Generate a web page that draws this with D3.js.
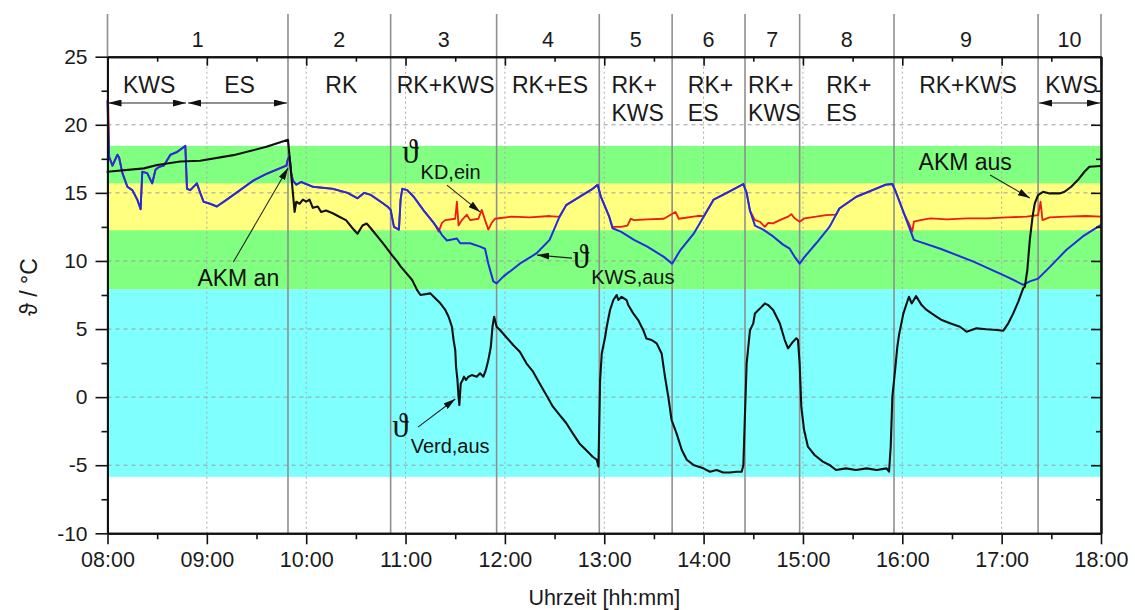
<!DOCTYPE html>
<html>
<head>
<meta charset="utf-8">
<script src="https://cdn.jsdelivr.net/npm/d3@7"></script>
<style>
  body { margin: 0; background: #fff; }
  svg { display: block; font-family: "Liberation Sans", Arial, Helvetica, sans-serif; }
</style>
</head>
<body>
<svg id="chart" width="1135" height="610"></svg>
<script>
// ---------- data ----------
const timeRange = ["08:00", "18:00"];
const xTickLabels = ["08:00","09:00","10:00","11:00","12:00","13:00","14:00","15:00","16:00","17:00","18:00"];
const xMinorTicks = ["08:30","09:30","10:30","11:30","12:30","13:30","14:30","15:30","16:30","17:30"];
const yTicks = [-10, -5, 0, 5, 10, 15, 20, 25];
const yMinorTicks = [-7.5, -2.5, 2.5, 7.5, 12.5, 17.5, 22.5];
const yRange = [-10, 25];

// operating phases (boundaries) and their numbers
const phaseBounds = ["08:00","09:49","10:51","11:55","12:57","13:41","14:25","14:58","15:55","17:22","18:00"];
const phaseNumbers = ["1","2","3","4","5","6","7","8","9","10"];

// operating modes within the phases
const modeBounds = ["08:00","08:48","09:49","10:51","11:55","12:57","13:41","14:25","14:58","15:55","17:22","18:00"];
const modeText = ["KWS","ES","RK","RK+KWS","RK+ES","RK+\nKWS","RK+\nES","RK+\nKWS","RK+\nES","RK+KWS","KWS"];
const modeArrow = [true, true, false, false, false, false, false, false, false, false, true];

// temperature bands [low, high]
const bandLow  = [7.9, 12.25, -5.85];
const bandHigh = [18.45, 15.7, 7.9];

// ϑ_KWS,aus
const kwsAus = [
  ["08:00",21.7],["08:01",17.65],["08:03",17.0],["08:06",17.8],["08:07",17.6],["08:09",16.45],
  ["08:12",15.45],["08:15",15.2],["08:18",14.5],["08:20",13.8],["08:21",16.55],["08:24",16.45],
  ["08:27",15.7],["08:29",16.7],["08:31",16.9],["08:34",17.0],["08:38",17.8],["08:42",18.0],
  ["08:47",18.45],["08:48",15.3],["08:50",15.2],["08:54",15.7],["08:56",15.0],["08:58",14.35],
  ["09:02",14.2],["09:06",14.0],["09:12",14.5],["09:20",15.2],["09:28",15.9],["09:36",16.4],
  ["09:44",16.8],["09:48",17.0],["09:49",17.5],["09:50",17.65],["09:51",16.4],["09:52",15.9],
  ["09:54",15.6],["09:57",15.8],["10:04",15.45],["10:16",15.3],["10:25",15.0],["10:31",14.6],
  ["10:35",15.0],["10:39",14.85],["10:45",14.35],["10:49",14.0],["10:51",13.75],["10:53",12.5],
  ["10:56",12.3],["10:57",14.5],["10:58",15.3],["11:01",15.2],["11:05",14.7],["11:11",13.7],
  ["11:17",12.8],["11:20",12.3],["11:22",11.9],["11:25",11.5],["11:31",11.65],["11:33",11.3],
  ["11:39",11.3],["11:45",11.05],["11:48",10.9],["11:50",9.8],["11:53",8.5],["11:55",8.35],
  ["11:59",8.85],["12:09",9.8],["12:19",10.55],["12:27",11.55],["12:33",13.25],["12:37",14.1],
  ["12:45",14.7],["12:53",15.3],["12:56",15.6],["12:58",14.7],["13:03",13.25],["13:05",12.4],
  ["13:10",12.15],["13:18",11.55],["13:26",11.05],["13:36",10.3],["13:41",9.8],["13:46",10.8],
  ["13:54",12.0],["14:00",13.25],["14:06",14.5],["14:14",15.0],["14:24",15.65],["14:26",15.0],
  ["14:28",13.7],["14:31",12.6],["14:36",12.3],["14:42",11.8],["14:48",11.2],["14:52",10.9],
  ["14:55",10.3],["14:58",9.8],["15:01",10.3],["15:08",11.3],["15:16",12.5],["15:22",13.85],
  ["15:32",14.7],["15:42",15.2],["15:50",15.6],["15:54",15.65],["15:56",15.1],["16:01",13.5],
  ["16:07",11.55],["16:23",10.9],["16:43",9.95],["17:03",8.85],["17:13",8.25],["17:17",8.5],
  ["17:22",8.7],["17:29",9.55],["17:39",10.8],["17:49",11.8],["18:00",12.65]
];

// ϑ_KD,ein
const kdEin = [
  ["08:00",21.8],["08:00:30",21.3],["08:01",17.65],["08:03",17.0],["08:06",17.8],["08:07",17.6],["08:09",16.45],
  ["08:12",15.45],["08:15",15.2],["08:18",14.5],["08:20",13.8],["08:21",16.55],["08:24",16.45],
  ["08:27",15.7],["08:29",16.7],["08:31",16.9],["08:34",17.0],["08:38",17.8],["08:42",18.0],
  ["08:47",18.45],["08:48",15.3],["08:50",15.2],["08:54",15.7],["08:56",15.0],["08:58",14.35],
  ["09:02",14.2],["09:06",14.0],["09:12",14.5],["09:20",15.2],["09:28",15.9],["09:36",16.4],
  ["09:44",16.8],["09:48",17.0],["09:49",17.5],["09:50",17.65],["09:51",16.4],["09:52",15.9],
  ["09:54",15.6],["09:57",15.8],["10:04",15.45],["10:16",15.3],["10:25",15.0],["10:31",14.6],
  ["10:35",15.0],["10:39",14.85],["10:45",14.35],["10:49",14.0],["10:51",13.75],["10:53",12.5],
  ["10:56",12.3],["10:57",14.5],["10:58",15.3],["11:01",15.2],["11:05",14.7],["11:11",13.7],
  ["11:17",12.8],["11:20",12.15],["11:22",12.8],["11:24",13.0],["11:30",13.1],["11:31",14.35],
  ["11:32",12.6],["11:34",13.0],["11:37",13.4],["11:39",13.0],["11:44",13.1],["11:46",13.75],
  ["11:48",13.0],["11:50",12.3],["11:52",12.8],["11:54",13.1],["12:04",13.25],["12:15",13.2],
  ["12:27",13.3],["12:31",13.25],["12:33",13.25],["12:37",14.1],["12:45",14.7],["12:53",15.3],
  ["12:56",15.6],["12:58",14.7],["13:03",13.25],["13:05",12.5],["13:10",12.5],["13:14",12.6],
  ["13:16",13.1],["13:18",13.0],["13:26",13.05],["13:36",13.1],["13:43",13.6],["13:45",13.1],
  ["13:56",13.3],["13:59",13.3],["14:00",13.25],["14:06",14.5],["14:14",15.0],["14:24",15.65],
  ["14:26",15.0],["14:28",13.7],["14:31",13.0],["14:34",12.88],["14:37",12.5],["14:39",12.8],
  ["14:42",12.76],["14:46",13.0],["14:51",13.25],["14:53",13.44],["14:55",13.13],["14:58",12.88],
  ["15:01",13.13],["15:08",13.25],["15:14",13.37],["15:20",13.4],["15:22",13.85],["15:32",14.7],
  ["15:42",15.2],["15:50",15.6],["15:54",15.65],["15:56",15.1],["16:01",13.5],["16:04",12.76],
  ["16:06",12.15],["16:07",12.88],["16:11",13.0],["16:17",13.13],["16:27",13.05],["16:39",13.13],
  ["16:51",13.13],["17:03",13.2],["17:15",13.25],["17:22",13.37],["17:23:30",14.35],["17:24:40",13.0],
  ["17:29",13.2],["17:39",13.25],["17:51",13.3],["18:00",13.25]
];

// ϑ_Verd,aus
const verdAus = [
  ["08:00",16.55],["08:22",16.8],["08:30",17.05],["08:44",17.3],["08:56",17.36],["09:16",17.77],
  ["09:36",18.38],["09:49",18.9],["09:50",17.6],["09:53",13.6],["09:54",14.35],["09:56",14.2],
  ["09:58",14.5],["10:00",14.35],["10:02",14.5],["10:04",13.9],["10:07",14.0],["10:09",13.6],
  ["10:12",13.7],["10:16",13.5],["10:20",13.25],["10:24",13.0],["10:28",12.4],["10:31",12.0],
  ["10:34",12.6],["10:36:30",12.75],["10:39",12.4],["10:43",11.8],["10:47",11.2],["10:51",10.55],
  ["10:55",9.95],["10:57",9.6],["11:04",8.6],["11:07",7.86],["11:09",7.5],["11:15",7.62],
  ["11:17",7.37],["11:21",6.89],["11:24",6.4],["11:26",5.9],["11:28",5.17],["11:29",4.19],
  ["11:30",3.46],["11:30:30",2.23],["11:31:20",1.26],["11:32",0.03],["11:32:30",-0.58],
  ["11:33:20",1.0],["11:34:30",1.26],["11:35:20",1.5],["11:36:30",1.26],["11:38",1.5],
  ["11:40",1.62],["11:43",1.5],["11:45",1.75],["11:47",1.5],["11:48:30",2.0],["11:50",2.72],
  ["11:51:30",3.7],["11:52:30",5.17],["11:53:30",5.9],["11:55",5.17],["11:57",4.93],["12:05",3.83],
  ["12:09",3.34],["12:13",2.48],["12:17",1.87],["12:21",1.0],["12:25",0.15],["12:29",-0.7],
  ["12:33",-1.3],["12:37",-1.9],["12:41",-2.66],["12:45",-3.4],["12:49",-3.88],["12:53",-4.38],
  ["12:55:30",-4.6],["12:56:30",-5.1],["12:57:30",1.26],["12:58:30",3.2],["13:00:30",4.4],
  ["13:01:30",5.17],["13:03:30",6.4],["13:05:30",7.13],["13:07:30",7.5],["13:08:30",7.13],
  ["13:10:30",7.37],["13:13:30",7.13],["13:14:30",6.76],["13:17:30",6.15],["13:20:30",5.66],
  ["13:23:30",4.93],["13:25:30",4.3],["13:28:30",4.2],["13:31:40",3.95],["13:34:40",3.2],
  ["13:36:40",1.5],["13:38:40",0.03],["13:40:40",-1.68],["13:43:40",-2.66],["13:46:50",-3.88],
  ["13:49:50",-4.6],["13:53:50",-4.98],["13:59:50",-5.23],["14:03:50",-5.48],["14:07:50",-5.35],
  ["14:11:50",-5.54],["14:15:50",-5.54],["14:19:50",-5.48],["14:23",-5.48],["14:24",-5.0],
  ["14:25",-1.19],["14:26",2.48],["14:28",4.9],["14:30",5.42],["14:31",6.15],["14:34",6.5],
  ["14:37",6.88],["14:39",6.76],["14:42",6.4],["14:46",5.42],["14:49",4.19],["14:51",3.58],
  ["14:54",4.07],["14:56",4.32],["14:57",4.2],["14:58",2.48],["14:59",-0.7],["15:00:40",-2.4],
  ["15:03",-3.64],["15:07",-4.25],["15:12",-4.74],["15:16",-4.98],["15:20",-5.35],["15:26",-5.23],
  ["15:32",-5.35],["15:38:30",-5.23],["15:44:30",-5.35],["15:50:30",-5.23],["15:52",-5.48],
  ["15:53",-3.64],["15:54",0.03],["15:55:40",2.0],["15:57",3.7],["15:58",4.56],["16:00:40",6.15],
  ["16:02:40",6.88],["16:04",7.37],["16:05:40",6.88],["16:08:20",7.42],["16:11:40",6.76],
  ["16:14:40",6.4],["16:17:40",6.15],["16:20:50",5.9],["16:23:50",5.66],["16:28:50",5.42],
  ["16:34:50",5.17],["16:38:50",4.8],["16:44:50",5.05],["16:50:50",4.98],["16:57",4.93],
  ["17:01",4.88],["17:04",5.42],["17:07",6.15],["17:10",7.0],["17:13",7.99],["17:14",8.1],
  ["17:15:30",9.33],["17:17",11.53],["17:18:40",13.25],["17:20",14.23],["17:22",14.84],
  ["17:25",15.08],["17:29",14.96],["17:35",14.96],["17:38",15.08],["17:42",15.45],["17:46",15.94],
  ["17:50",16.55],["17:53",16.92],["18:00",16.97]
];

// text annotations and pointer arrows, anchored in data coordinates
const noteText = ["AKM an", "AKM aus"];
const noteAt = [["09:19", 8.16], ["16:38", 16.67]];
const symbolSub = ["KD,ein", "KWS,aus", "Verd,aus"];
const symbolAt = [["10:58", 17.19], ["12:41", 9.48], ["10:52", -2.93]];
const pointerFrom = [["09:16", 9.92], ["11:25", 15.57], ["12:40:30", 10.21], ["11:07:30", -2.2], ["16:53", 16.31]];
const pointerTo   = [["09:49", 16.82], ["11:45", 13.6], ["12:19:30", 10.43], ["11:30", -0.14], ["17:17", 14.62]];

// ---------- layout ----------
const toMin = s => { const p = s.split(":").map(Number); return p[0] * 60 + p[1] + (p[2] || 0) / 60; };
const plotL = 107.5, plotR = 1101, plotT = 56.7, plotB = 533.3, headT = 14;

const x = d3.scaleLinear().domain(timeRange.map(toMin)).range([plotL, plotR]);
const y = d3.scaleLinear().domain(yRange).range([plotB, plotT]);
const X = s => x(toMin(s));

const svg = d3.select("#chart");
const defs = svg.append("defs");
defs.append("marker").attr("id", "head").attr("viewBox", "0 0 13 7")
  .attr("refX", 13).attr("refY", 3.5).attr("markerWidth", 13).attr("markerHeight", 7)
  .attr("markerUnits", "userSpaceOnUse").attr("orient", "auto-start-reverse")
  .append("path").attr("d", "M0,0L13,3.5L0,7Z").attr("fill", "#111");
defs.append("marker").attr("id", "tip").attr("viewBox", "0 0 12 7")
  .attr("refX", 12).attr("refY", 3.5).attr("markerWidth", 12).attr("markerHeight", 7)
  .attr("markerUnits", "userSpaceOnUse").attr("orient", "auto")
  .append("path").attr("d", "M0,0L12,3.5L0,7Z").attr("fill", "#111");

// colour bands
const bandFill = ["#80ff80", "#ffff80", "#80ffff"];
svg.append("g").selectAll("rect").data(bandLow).join("rect")
  .attr("x", plotL).attr("width", plotR - plotL)
  .attr("y", (d, i) => y(bandHigh[i]))
  .attr("height", (d, i) => y(bandLow[i]) - y(bandHigh[i]))
  .attr("fill", (d, i) => bandFill[i]);

// grid
const grid = svg.append("g");
grid.selectAll(".gy").data(yTicks.filter(v => v > yRange[0] && v < yRange[1])).join("line")
  .attr("class", "gy")
  .attr("x1", plotL).attr("x2", plotR).attr("y1", d => y(d)).attr("y2", d => y(d))
  .attr("stroke", "#9c9c9c").attr("stroke-width", 1).attr("stroke-dasharray", "4,4");
grid.selectAll(".gx").data(xTickLabels.slice(1, -1)).join("line")
  .attr("class", "gx")
  .attr("x1", d => X(d)).attr("x2", d => X(d)).attr("y1", plotT).attr("y2", plotB)
  .attr("stroke", "#a8a8a8").attr("stroke-width", 1).attr("stroke-dasharray", "2,3");

// phase separators
svg.append("g").selectAll("line").data(phaseBounds).join("line")
  .attr("x1", d => X(d)).attr("x2", d => X(d)).attr("y1", headT).attr("y2", plotB)
  .attr("stroke", "#8f8f8f").attr("stroke-width", 1.6);

// curves
const line = d3.line().x(d => X(d[0])).y(d => y(d[1])).curve(d3.curveLinear);
const curves = svg.append("g").attr("fill", "none").attr("stroke-linejoin", "round").attr("stroke-linecap", "round");
curves.append("path").datum(kdEin).attr("d", line).attr("stroke", "#ee1c10").attr("stroke-width", 1.8);
curves.append("path").datum(kwsAus).attr("d", line).attr("stroke", "#1e2ee0").attr("stroke-width", 2);
curves.append("path").datum(verdAus).attr("d", line).attr("stroke", "#111").attr("stroke-width", 2.1);

// axes
function styleAxis(g) {
  g.select(".domain").attr("stroke", "#111").attr("stroke-width", 2);
  g.selectAll(".tick line").attr("stroke", "#111").attr("stroke-width", 1.6);
  g.selectAll(".tick text").attr("fill", "#1a1a1a").attr("font-family", "Liberation Sans, Arial, sans-serif");
}
const xMajor = xTickLabels.map(toMin), xMinor = xMinorTicks.map(toMin);
// bottom
svg.append("g").attr("transform", `translate(0,${plotB})`)
  .call(d3.axisBottom(x).tickValues(xMinor).tickSize(6).tickFormat("").tickSizeOuter(0)).call(styleAxis);
svg.append("g").attr("transform", `translate(0,${plotB})`)
  .call(d3.axisBottom(x).tickValues(xMajor).tickSize(11).tickPadding(7).tickSizeOuter(0)
    .tickFormat((d, i) => xTickLabels[i]))
  .call(styleAxis).selectAll(".tick text").attr("font-size", 21.5);
// top (ticks pointing inward)
svg.append("g").attr("transform", `translate(0,${plotT})`)
  .call(d3.axisBottom(x).tickValues(xMinor).tickSize(5).tickFormat("").tickSizeOuter(0)).call(styleAxis);
svg.append("g").attr("transform", `translate(0,${plotT})`)
  .call(d3.axisBottom(x).tickValues(xMajor).tickSize(9).tickFormat("").tickSizeOuter(0)).call(styleAxis);
// left
svg.append("g").attr("transform", `translate(${plotL},0)`)
  .call(d3.axisLeft(y).tickValues(yMinorTicks).tickSize(6).tickFormat("").tickSizeOuter(0)).call(styleAxis);
svg.append("g").attr("transform", `translate(${plotL},0)`)
  .call(d3.axisLeft(y).tickValues(yTicks).tickSize(12).tickPadding(8).tickSizeOuter(0).tickFormat(d => String(d)))
  .call(styleAxis).selectAll(".tick text").attr("font-size", 21);
// right (ticks pointing inward)
svg.append("g").attr("transform", `translate(${plotR},0)`)
  .call(d3.axisLeft(y).tickValues(yMinorTicks).tickSize(5).tickFormat("").tickSizeOuter(0)).call(styleAxis);
svg.append("g").attr("transform", `translate(${plotR},0)`)
  .call(d3.axisLeft(y).tickValues(yTicks).tickSize(10).tickFormat("").tickSizeOuter(0)).call(styleAxis);

// axis titles
svg.append("text").attr("x", (plotL + plotR) / 2).attr("y", 605).attr("text-anchor", "middle")
  .attr("font-size", 21.5).attr("fill", "#1a1a1a").text("Uhrzeit [hh:mm]");
svg.append("text").attr("transform", "translate(37,287) rotate(-90)").attr("text-anchor", "middle")
  .attr("font-size", 23).attr("fill", "#1a1a1a").text("ϑ / °C");

// header: phase numbers
const head = svg.append("g").attr("fill", "#1a1a1a");
head.selectAll(".num").data(phaseNumbers).join("text")
  .attr("class", "num")
  .attr("x", (d, i) => (X(phaseBounds[i]) + X(phaseBounds[i + 1])) / 2)
  .attr("y", 47).attr("text-anchor", "middle").attr("font-size", 21.5).text(d => d);

// header: mode labels (multi-line blocks centred in their span, lines left-aligned)
modeText.forEach((t, i) => {
  const x0 = X(modeBounds[i]), x1 = X(modeBounds[i + 1]);
  const lines = t.split("\n");
  const g = head.append("text").attr("font-size", 23);
  lines.forEach((l, k) => g.append("tspan").attr("y", 93 + k * 28).text(l));
  if (lines.length === 1) {
    g.attr("text-anchor", "middle").selectAll("tspan").attr("x", (x0 + x1) / 2 + 2);
  } else {
    const w = d3.max(g.selectAll("tspan").nodes(), n => n.getComputedTextLength());
    g.selectAll("tspan").attr("x", (x0 + x1) / 2 - w / 2 + 2);
  }
  if (modeArrow[i]) {
    head.append("line").attr("x1", x0 + 1).attr("x2", x1 - 1).attr("y1", 103).attr("y2", 103)
      .attr("stroke", "#222").attr("stroke-width", 1.2)
      .attr("marker-start", "url(#head)").attr("marker-end", "url(#head)");
  }
});

// annotations
const notes = svg.append("g").attr("fill", "#111");
notes.selectAll(".note").data(noteText).join("text")
  .attr("class", "note")
  .attr("x", (d, i) => X(noteAt[i][0])).attr("y", (d, i) => y(noteAt[i][1]))
  .attr("text-anchor", "middle").attr("font-size", 23).text(d => d);
symbolSub.forEach((s, i) => {
  const t = notes.append("text").attr("x", X(symbolAt[i][0])).attr("y", y(symbolAt[i][1]));
  t.append("tspan").attr("font-family", "Liberation Serif, DejaVu Serif, serif").attr("font-size", 33).text("ϑ");
  t.append("tspan").attr("dx", 2).attr("dy", 16).attr("font-size", 20).text(s);
});
notes.selectAll(".ptr").data(pointerFrom).join("line")
  .attr("class", "ptr")
  .attr("x1", d => X(d[0])).attr("y1", d => y(d[1]))
  .attr("x2", (d, i) => X(pointerTo[i][0])).attr("y2", (d, i) => y(pointerTo[i][1]))
  .attr("stroke", "#222").attr("stroke-width", 1.1).attr("marker-end", "url(#tip)");
</script>
</body>
</html>
